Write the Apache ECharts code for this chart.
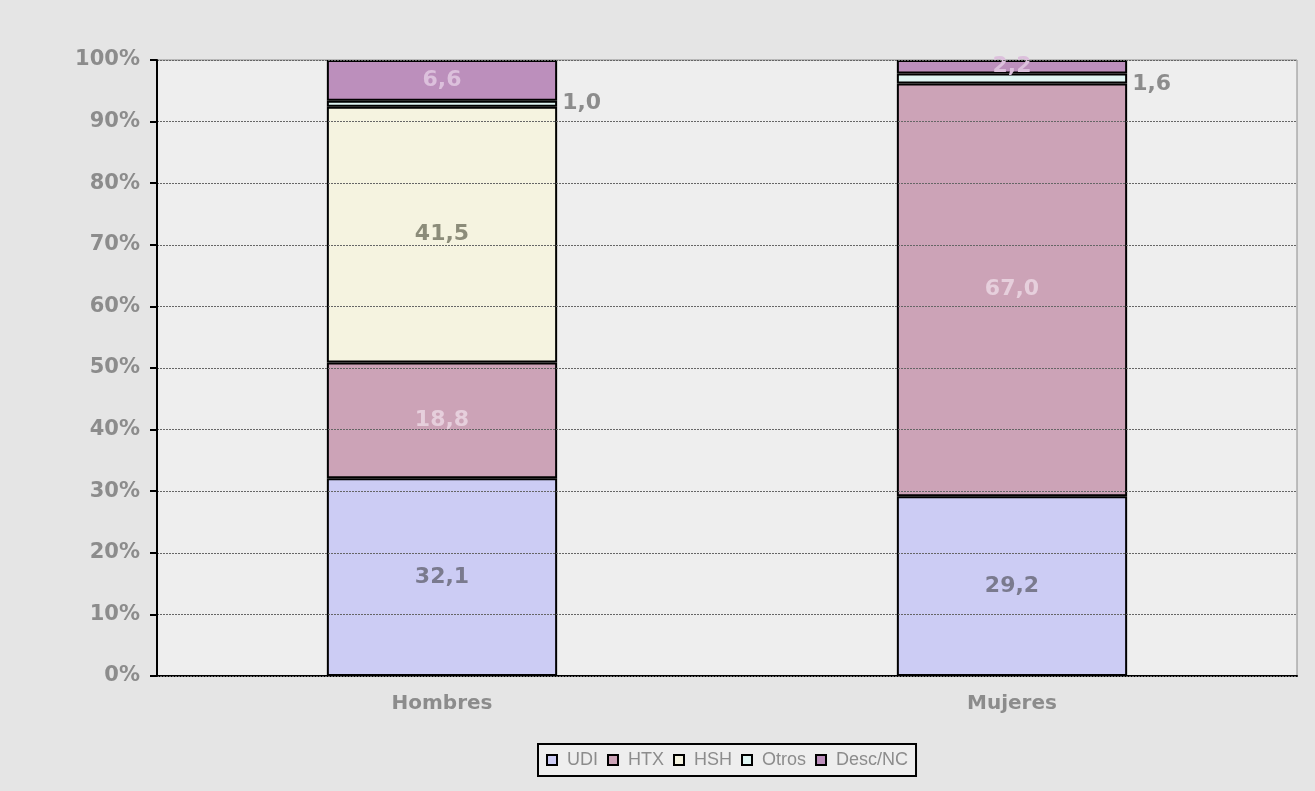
<!DOCTYPE html>
<html>
<head>
<meta charset="utf-8">
<script src="https://cdn.jsdelivr.net/npm/echarts@6/dist/echarts.min.js"></script>
<style>
  html, body { margin: 0; padding: 0; background: #e5e5e5; }
  #chart { width: 1315px; height: 791px; }
</style>
</head>
<body>
<div id="chart"></div>
<script>
// categorias y porcentajes por grupo de transmision
const categories = ['Hombres', 'Mujeres']
const udi = [32.1, 29.2]
const htx = [18.8, 67.0]
const hsh = [41.5, 0]
const otros = [1.0, 1.6]
const desc = [6.6, 2.2]
const yTicks = [0, 10, 20, 30, 40, 50, 60, 70, 80, 90, 100]

const fmt = (p) => p.value ? p.value.toFixed(1).replace('.', ',') : ''

function serie (name, data, color, labelColor, labelPos) {
  return {
    name: name,
    type: 'bar',
    stack: 'total',
    barWidth: '40.4%',
    data: data.map((v, i) => {
      // la etiqueta de Otros en Mujeres va un poco mas abajo
      if (labelPos === 'right' && i === 1) return { value: v, label: { offset: [0, 6] } }
      return v === 0 ? '-' : v
    }),
    itemStyle: { color: color, borderColor: '#000', borderWidth: 2 },
    label: {
      show: true,
      position: labelPos || 'inside',
      formatter: fmt,
      color: labelColor,
      fontFamily: 'DejaVu Sans',
      fontWeight: 'bold',
      fontSize: 22
    }
  }
}

const chart = echarts.init(document.getElementById('chart'))
chart.setOption({
  backgroundColor: '#e5e5e5',
  animation: false,
  grid: {
    left: 157, right: 18, top: 60, bottom: 115,
    show: true, backgroundColor: '#eeeeee', borderWidth: 1, borderColor: '#8c8c8c'
  },
  legend: {
    bottom: 15,
    left: 538,
    icon: 'rect',
    itemWidth: 10,
    itemHeight: 10,
    itemGap: 9,
    padding: [7, 8, 7, 8],
    borderColor: '#000',
    borderWidth: 2,
    backgroundColor: '#eeeeee',
    textStyle: { color: '#8c8c8c', fontFamily: 'Liberation Sans', fontSize: 18, padding: [0, 0, 0, 5] },
    itemStyle: { borderColor: '#000', borderWidth: 2 }
  },
  xAxis: {
    type: 'category',
    data: categories,
    axisLine: { lineStyle: { color: '#000', width: 2 } },
    axisTick: { length: 7, lineStyle: { color: '#000', width: 2 } },
    axisLabel: {
      color: '#8c8c8c', fontFamily: 'DejaVu Sans', fontWeight: 'bold', fontSize: 20, margin: 18
    }
  },
  yAxis: {
    type: 'value',
    min: yTicks[0],
    max: yTicks[yTicks.length - 1],
    interval: 10,
    z: 3,
    axisLine: { show: true, lineStyle: { color: '#000', width: 2 } },
    axisTick: { show: true, length: 7, lineStyle: { color: '#000', width: 2 } },
    axisLabel: {
      formatter: '{value}%', color: '#8c8c8c', fontFamily: 'DejaVu Sans', fontWeight: 'bold', fontSize: 21, margin: 17
    },
    splitLine: { lineStyle: { color: '#666', width: 1, type: [2, 1] } }
  },
  series: [
    serie('UDI', udi, '#ccccf4', '#7a7a8e'),
    serie('HTX', htx, '#cca3b7', '#e6cfdc'),
    serie('HSH', hsh, '#f5f3e0', '#8c8c7a'),
    serie('Otros', otros, '#dff5f3', '#8c8c8c', 'right'),
    serie('Desc/NC', desc, '#bc8fbc', '#dcc0dc')
  ]
})
</script>
</body>
</html>
